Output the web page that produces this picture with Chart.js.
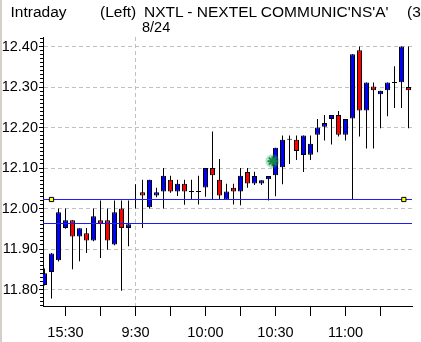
<!DOCTYPE html>
<html><head><meta charset="utf-8">
<script src="https://cdn.jsdelivr.net/npm/chart.js@4.4.1/dist/chart.umd.min.js"></script>
<style>
html,body{margin:0;padding:0;background:#fff;overflow:hidden;width:421px;height:342px;}
#wrap{position:relative;width:421px;height:342px;overflow:hidden;}
#edge{position:absolute;left:0;top:0;width:2px;height:342px;background:#d4d0c8;}
canvas{position:absolute;left:0;top:0;}
.t{position:absolute;white-space:nowrap;color:#000;font-family:"Liberation Sans",Arial,sans-serif;font-size:15.5px;line-height:15.5px;top:3.6px;}
</style></head><body>
<div id="wrap">
<div id="edge"></div>
<canvas id="c" width="421" height="342"></canvas>
<div class="t" style="left:10.5px">Intraday</div>
<div class="t" style="left:100px">(Left)</div>
<div class="t" style="left:144px">NXTL - NEXTEL COMMUNIC'NS'A'</div>
<div class="t" style="left:407px">(3</div>
<div class="t" style="left:142px;top:20.2px;font-size:14.5px;line-height:14.5px">8/24</div>
</div>
<script>
// ---- data ----
const open  = [11.811,11.843,11.872,11.952,11.971,11.931,11.939,11.921,11.971,11.971,11.911,12.000,11.952,
               null,12.040,12.003,12.032,12.042,12.071,12.042,12.061,12.041,12.041,12.052,12.100,12.071,12.022,
               12.051,12.042,12.090,12.062,12.062,12.072,12.082,12.102,12.170,12.170,12.132,12.133,12.182,12.202,
               12.221,12.231,12.182,12.222,12.391,12.242,12.301,12.282,12.292,12.310,12.312,12.300];
const high  = [11.852,11.890,12.000,12.000,11.971,11.951,11.952,12.000,12.020,12.000,12.020,12.020,12.020,
               12.060,12.071,12.071,12.051,12.100,12.081,12.071,12.071,12.071,12.081,12.100,12.190,12.122,12.061,
               12.061,12.100,12.100,12.091,12.070,12.080,12.150,12.180,12.180,12.180,12.180,12.180,12.221,12.231,
               12.231,12.241,12.221,12.381,12.400,12.311,12.311,12.291,12.311,12.351,12.400,12.400];
const low   = [11.810,11.778,11.869,11.950,11.850,11.870,11.890,11.919,11.878,11.898,11.909,11.797,11.907,
               12.000,11.952,12.000,12.028,12.000,12.039,12.031,12.009,12.021,12.010,12.029,12.022,12.021,12.022,
               12.010,12.008,12.051,12.058,12.058,12.020,12.030,12.060,12.110,12.120,12.090,12.120,12.139,12.168,
               12.158,12.178,12.168,12.022,12.178,12.148,12.148,12.198,12.228,12.248,12.248,12.198];
const close = [11.840,11.889,11.991,11.971,11.931,11.951,11.921,11.981,11.962,11.921,11.991,11.952,11.961,
               null,12.032,12.071,12.040,12.081,12.042,12.061,12.042,12.041,12.041,12.100,12.082,12.032,12.042,
               12.042,12.081,12.062,12.080,12.070,12.080,12.150,12.170,12.170,12.142,12.180,12.160,12.200,12.211,
               12.231,12.182,12.221,12.381,12.242,12.311,12.292,12.291,12.311,12.310,12.400,12.292];
const xTickPos    = [3, 8, 13, 18, 23, 28, 33, 38, 43, 48];
const xTickLabels = ['15:30','','9:30','','10:00','','10:30','','11:00',''];
const dayBreak = 13;
const yTicks = [11.80, 11.90, 12.00, 12.10, 12.20, 12.30, 12.40];
const refLines = [12.0223, 11.963];
const markerX = [1, 51.33];
const markerY = [12.0223, 12.0223];
const glowX = [32.57];
const glowY = [12.117];

// ---- axis ranges ----
const xMin = -0.2143, xMax = 52.5;
const yMin = 11.7593, yMax = 12.4235;

const BLUE = '#0000ff', RED = '#ff0000';
const bodyData = [], bodyColors = [];
for (let i = 0; i < open.length; i++) {
  if (open[i] == null) continue;
  bodyData.push({x: i, y: [open[i], close[i]]});
  bodyColors.push(close[i] > open[i] ? BLUE : (close[i] < open[i] ? RED : '#000'));
}
const wickData = high.map((h, i) => ({x: i, y: [low[i], h]}));
const lineData = refLines.map(v => [{x: xMin, y: v}, {x: xMax, y: v}]);
const markerData = markerX.map((x, i) => ({x, y: markerY[i]}));
const glowData = glowX.map((x, i) => ({x, y: glowY[i]}));

Chart.defaults.font.family = '"Liberation Sans",Arial,sans-serif';
Chart.defaults.font.size = 14.5;
Chart.defaults.color = '#000';

new Chart(document.getElementById('c'), {
  type: 'bar',
  data: {
    datasets: [
      {type:'bar', data: bodyData, backgroundColor: bodyColors, borderColor:'#000', borderWidth:1,
       borderSkipped:false, barThickness:5, grouped:false, minBarLength:1, inflateAmount:0, order:2, yAxisID:'y'},
      {type:'bar', data: wickData, backgroundColor:'#000', borderWidth:0, barThickness:1,
       grouped:false, inflateAmount:0, order:3, yAxisID:'y'},
      {type:'line', data: lineData[0], borderColor:'#1c1cff', borderWidth:1, pointRadius:0, fill:false, order:1, yAxisID:'y'},
      {type:'line', data: lineData[1], borderColor:'#1c1cff', borderWidth:1, pointRadius:0, fill:false, order:1, yAxisID:'y'},
      {type:'scatter', data: markerData, pointStyle:'rect', pointRadius:3, backgroundColor:'#ffff00',
       borderColor:'#000', borderWidth:1, order:0, yAxisID:'y'},
      {type:'scatter', data: glowData, pointStyle:'circle', pointRadius:7, backgroundColor:'rgba(40,170,100,0.35)',
       borderWidth:0, order:0, yAxisID:'y'},
      {type:'scatter', data: glowData, pointStyle:'star', pointRadius:5, backgroundColor:'#0a7a3a',
       borderColor:'#0a7a3a', borderWidth:2, order:0, yAxisID:'y'}
    ]
  },
  options: {
    responsive:false, animation:false, events:[],
    layout:{padding:{left:0, right:9, top:37, bottom:0}},
    plugins:{legend:{display:false}, tooltip:{enabled:false}},
    scales:{
      x:{type:'linear', min:xMin, max:xMax, offset:false,
        afterBuildTicks: s => { s.ticks = xTickPos.map(v => ({value: v})); },
        afterFit: s => { s.height = 36; },
        ticks:{autoSkip:false, maxRotation:0, minRotation:0, padding:8,
          callback: v => { const k = xTickPos.indexOf(v); return k >= 0 ? xTickLabels[k] : ''; }},
        grid:{offset:false, lineWidth:1, tickLength:10, tickColor:'#000',
          color: c => (c.tick && c.tick.value === dayBreak) ? '#c0c0c0' : 'rgba(0,0,0,0)'},
        border:{display:true, color:'#000', width:1, dash:[4,3]}
      },
      y:{type:'linear', position:'left', min:yMin, max:yMax, weight:1,
        afterBuildTicks: s => { s.ticks = yTicks.map(v => ({value: v})); },
        afterFit: s => { s.width = 43; },
        ticks:{padding:1, callback: v => Number(v).toFixed(2)},
        grid:{color:'#c0c0c0', tickColor:'#000', tickLength:4, lineWidth:1},
        border:{display:true, color:'#000', width:1, dash:[4,3]}
      },
      yMinor:{type:'linear', position:'left', min:yMin, max:yMax, weight:0,
        afterBuildTicks: s => {
          const t = [];
          for (let k = Math.ceil(yMin * 100); k <= Math.floor(yMax * 100); k++) t.push({value: k / 100});
          s.ticks = t;
        },
        afterFit: s => { s.width = 0; },
        ticks:{display:false},
        grid:{drawOnChartArea:false, tickColor:'#000', tickLength:3, lineWidth:1},
        border:{display:false}
      }
    }
  }
});
</script>
</body></html>
